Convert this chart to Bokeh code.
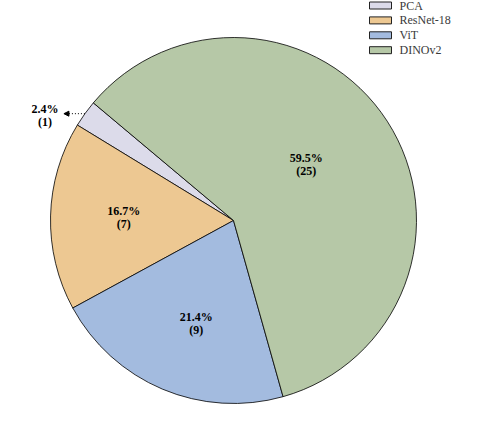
import math
from bokeh.plotting import figure
from bokeh.models import Range1d, Arrow, NormalHead
from bokeh.core.properties import value
from bokeh.embed import file_html
from bokeh.resources import INLINE

# ---- data ----
categories = ["PCA", "ResNet-18", "ViT", "DINOv2"]
counts = [1, 7, 9, 25]

# ---- style ----
colors = ["#dcdbea", "#edc892", "#a3bbdf", "#b6c8a7"]
label_dist = [1.0, 0.6, 0.6, 0.5]
label_angle_offset = [0.0, 0.0, 3.0, 4.6]   # degrees
start_deg = 140

W, H = 486, 438
cx, cy, R = 233, H - 220, 183

total = sum(counts)
pcts = [c / total * 100 for c in counts]
starts, ends = [], []
a = math.radians(start_deg)
for c in counts:
    starts.append(a)
    a += 2 * math.pi * c / total
    ends.append(a)

p = figure(width=W, height=H, x_range=Range1d(0, W), y_range=Range1d(0, H),
           output_backend="svg", toolbar_location=None, min_border=0)
p.axis.visible = False
p.grid.visible = False
p.outline_line_color = None
p.background_fill_color = "white"
p.border_fill_color = "white"

p.wedge(x=cx, y=cy, radius=R, start_angle=starts, end_angle=ends,
        fill_color=colors, line_color="black", line_width=0.8)

font = value("Liberation Serif")
lx, ly, pt, ct = [], [], [], []
for i, c in enumerate(counts):
    mid = (starts[i] + ends[i]) / 2 + math.radians(label_angle_offset[i])
    if i == 0:
        ex = cx + R * math.cos(mid)
        ey = cy + R * math.sin(mid)
        p.add_layout(Arrow(end=NormalHead(size=5, fill_color="black", line_color="black"),
                           x_start=ex, y_start=ey, x_end=ex - 21, y_end=ey,
                           line_dash="1 2", line_width=1, line_color="black"))
        x, y = ex - 40, ey - 2
    else:
        x = cx + label_dist[i] * R * math.cos(mid)
        y = cy + label_dist[i] * R * math.sin(mid)
    lx.append(x)
    ly.append(y)
    pt.append(f"{pcts[i]:.1f}%")
    ct.append(f"({c})")

p.text(x=lx, y=[v + 6.5 for v in ly], text=pt, text_font=font, text_font_size="12px",
       text_font_style="bold", text_align="center", text_baseline="middle", text_color="black")
p.text(x=lx, y=[v - 6.5 for v in ly], text=ct, text_font=font, text_font_size="12px",
       text_font_style="bold", text_align="center", text_baseline="middle", text_color="black")

# legend
leg_y = [H - 5.0 - 14.9 * i for i in range(len(categories))]
p.rect(x=380, y=leg_y, width=22, height=7, fill_color=colors, line_color="#222222", line_width=1)
p.text(x=399, y=leg_y, text=categories, text_font=font, text_font_size="12px",
       text_baseline="middle", text_color="#3a3a3a")

open("out.html", "w").write(file_html(p, INLINE))
